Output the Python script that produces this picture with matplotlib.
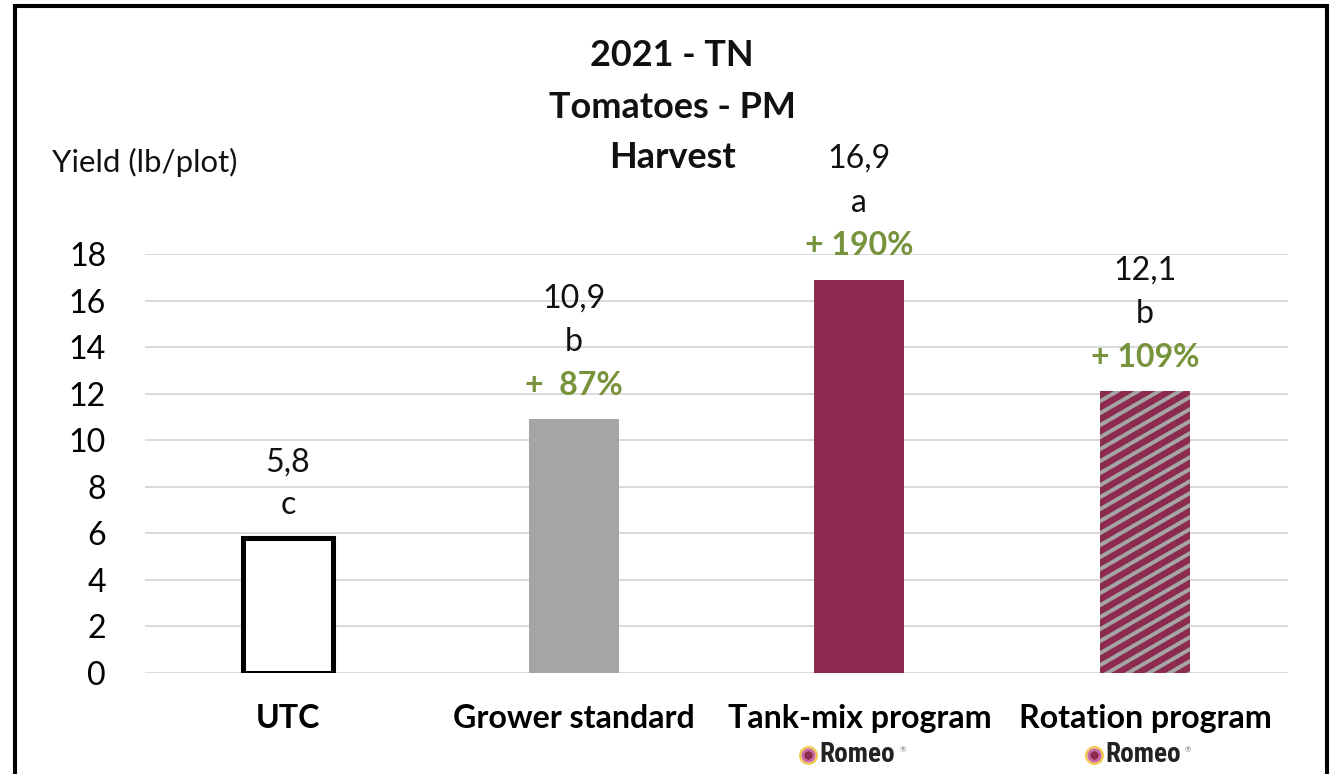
import matplotlib
matplotlib.use("Agg")
import numpy as np
import matplotlib.pyplot as plt
from matplotlib.patches import Rectangle
from matplotlib.lines import Line2D
from matplotlib.transforms import offset_copy, IdentityTransform

categories = ["UTC", "Grower standard", "Tank-mix program", "Rotation program"]
yields = [5.8, 10.9, 16.9, 12.1]
value_labels = ["5,8", "10,9", "16,9", "12,1"]
letters = ["c", "b", "a", "b"]
pct_labels = ["", "+  87%", "+ 190%", "+ 109%"]
has_logo = [False, False, True, True]
yticks = [0, 2, 4, 6, 8, 10, 12, 14, 16, 18]

MAROON = "#8C2A4F"
GREY = "#A5A5A5"
GREEN = "#77933C"

plt.rcParams["font.family"] = ["Lato", "DejaVu Sans"]

DPI = 140
W, H = 1330, 774
fig = plt.figure(figsize=(W / DPI, H / DPI), dpi=DPI)
ax = fig.add_axes([145 / W, 1 - 673 / H, (1288 - 145) / W, (673 - 254) / H])

x = list(range(len(categories)))
bw = 0.315
ax.bar(x[0], yields[0], width=bw, facecolor="white", edgecolor="black", linewidth=2.6, zorder=3)
ax.bar(x[1], yields[1], width=bw, color=GREY, zorder=3)
ax.bar(x[2], yields[2], width=bw, color=MAROON, zorder=3)
rot = ax.bar(x[3], yields[3], width=bw, color=MAROON, linewidth=0, zorder=3)[0]

ax.set_xlim(-0.5, 3.5)
ax.set_ylim(0, 18)
ax.set_yticks(yticks)
ax.grid(axis="y", color="#D9D9D9", linewidth=1.0, zorder=0)
ax.set_axisbelow(True)
for s in ax.spines.values():
    s.set_visible(False)
ax.tick_params(axis="y", length=0, labelsize=16.5, pad=20)
ax.tick_params(axis="x", length=0, labelsize=16.5, pad=16)
ax.set_xticks(x)
ax.set_xticklabels(categories, fontweight="bold")

# grey diagonal stripes on the rotation bar (about 30 degrees, like the Excel pattern)
fig.canvas.draw()
bb = rot.get_window_extent()
slope = 0.58
step = 12.0
c = -bb.width * slope
while c < bb.height:
    xs = np.array([bb.x0, bb.x1])
    ys = bb.y0 + c + slope * (xs - bb.x0)
    ln = Line2D(xs, ys, transform=IdentityTransform(), color=GREY, linewidth=2.0, zorder=4)
    ln.set_clip_path(rot)
    fig.add_artist(ln)
    c += step

for i, v in enumerate(yields):
    if pct_labels[i]:
        offs = [34, 77, 121]
        ax.annotate(pct_labels[i], (i, v), xytext=(0, offs[0]), textcoords="offset pixels",
                    ha="center", va="center", fontsize=16.5, fontweight="bold", color=GREEN)
    else:
        offs = [None, 33, 75]
    ax.annotate(letters[i], (i, v), xytext=(0, offs[1]), textcoords="offset pixels",
                ha="center", va="center", fontsize=16.5, color="#111111")
    ax.annotate(value_labels[i], (i, v), xytext=(0, offs[2]), textcoords="offset pixels",
                ha="center", va="center", fontsize=16.5, color="#111111")

# Romeo logos under the program labels
for i, flag in enumerate(has_logo):
    if not flag:
        continue
    tr = offset_copy(ax.transData, fig=fig, x=-51 / DPI, y=-82 / DPI, units="inches")
    ax.plot([i], [0], marker="o", markersize=8.5, markerfacecolor="white",
            markeredgecolor="#EFC84A", markeredgewidth=1.2, transform=tr, clip_on=False, zorder=5)
    ax.plot([i], [0], marker="o", markersize=6, markerfacecolor="white",
            markeredgecolor="#C860A8", markeredgewidth=1.2, transform=tr, clip_on=False, zorder=5)
    ax.plot([i], [0], marker="o", markersize=3.6, color=MAROON, transform=tr, clip_on=False, zorder=6)
    ax.annotate("Romeo", (i, 0), xytext=(-40, -82), textcoords="offset pixels", ha="left",
                va="center", fontsize=14, fontweight="bold", color="#222222",
                family=["Roboto Condensed", "Roboto", "DejaVu Sans"], annotation_clip=False)
    ax.annotate("\u00AE", (i, 0), xytext=(43, -77), textcoords="offset pixels", ha="center",
                va="center", fontsize=4, color="#777777", annotation_clip=False)

fig.text(52 / W, 1 - 162 / H, "Yield (lb/plot)", ha="left", va="center", fontsize=16, color="#111111")

for txt, yy in [("2021 - TN", 56), ("Tomatoes - PM", 107), ("Harvest", 158)]:
    fig.text(672 / W, 1 - yy / H, txt, ha="center", va="center", fontsize=18.5,
             fontweight="bold", color="#111111")

fig.patches.append(Rectangle((14.5 / W, -0.05), (1327 - 14.5) / W, 1.05 - 5.5 / H,
                             transform=fig.transFigure, fill=False, edgecolor="black",
                             linewidth=2.1, figure=fig))

fig.savefig("out.png", dpi=DPI)
